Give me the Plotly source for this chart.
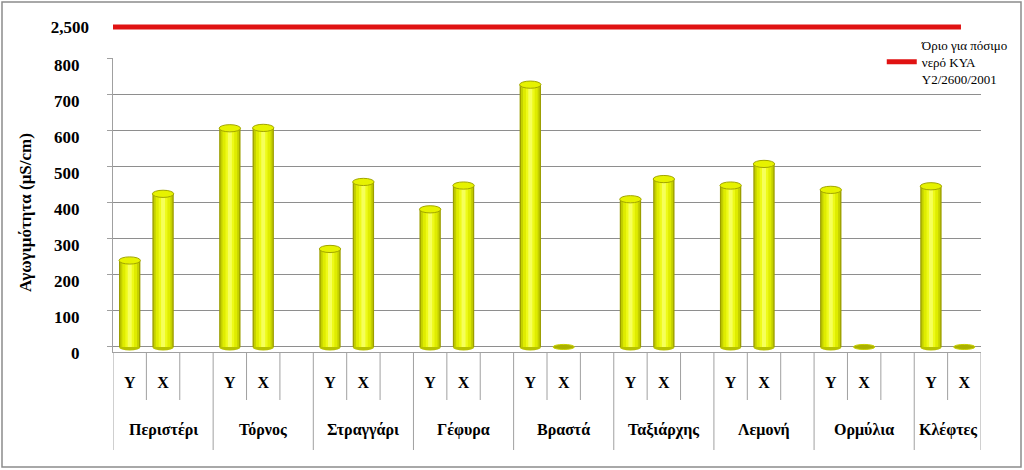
import plotly.graph_objects as go

# ---------------- data ----------------
locations = ["Περιστέρι", "Τόρνος", "Στραγγάρι", "Γέφυρα", "Βραστά",
             "Ταξιάρχης", "Λεμονή", "Ορμύλια", "Κλέφτες"]
sub_labels = ["Υ", "Χ"]
values_Y = [240, 607, 272, 382, 728, 410, 448, 436, 446]
values_X = [425, 608, 458, 448, 0, 466, 508, 0, 0]
limit_value = 2500
limit_name = "Όριο για πόσιμο<br>νερό ΚΥΑ<br>Υ2/2600/2001"
y_ticks = [0, 100, 200, 300, 400, 500, 600, 700, 800]
y_title = "Αγωγιμότητα (μS/cm)"

# ---------------- layout helpers ----------------
W, H = 1024, 470
L, R, T, B = 113, 43, 10, 118
PH = H - T - B            # plot height in px
SLOTS = 3                 # Y, X, gap per location
n_groups = len(locations)
n_slots = SLOTS * (n_groups - 1) + 2
x_range = [-0.5, n_slots - 0.5]

def py(px):               # pixel y -> paper fraction
    return (H - B - px) / PH

def px_x(px):             # pixel x -> paper fraction
    return (px - L) / (W - L - R)

pos_Y = [g * SLOTS for g in range(n_groups)]
pos_X = [g * SLOTS + 1 for g in range(n_groups)]
bar_x = []
bar_v = []
tick_vals = []
tick_text = []
for g in range(n_groups):
    bar_x += [pos_Y[g], pos_X[g]]
    bar_v += [values_Y[g], values_X[g]]
    tick_vals += [pos_Y[g], pos_X[g]]
    tick_text += sub_labels

fig = go.Figure()

# cylinder-like shading: stacked layers of narrowing bars (overlay)
layers = [(0.64, "#9c9e00"), (0.56, "#c4d000"), (0.44, "#dfec00"),
          (0.26, "#eefa18"), (0.12, "#f6ff5a")]
for w, c in layers:
    fig.add_trace(go.Bar(x=bar_x, y=bar_v, width=w, marker_color=c,
                         marker_line_width=0, showlegend=False,
                         hoverinfo="x+y"))

# limit line on top axis
fig.add_trace(go.Scatter(x=[x_range[0], bar_x[-1] - 0.1],
                         y=[limit_value, limit_value], yaxis="y2",
                         mode="lines", line=dict(color="#e01212", width=5),
                         name=limit_name, showlegend=True))

shapes = []
# bottom and top ellipses of cylinders
for xv, v in zip(bar_x, bar_v):
    hw = 0.32
    if v > 0:
        shapes.append(dict(type="circle", xref="x", yref="y", layer="below",
                           x0=xv - hw, x1=xv + hw, y0=-10, y1=10,
                           fillcolor="#b8c200", line=dict(width=0)))
        shapes.append(dict(type="circle", xref="x", yref="y", layer="above",
                           x0=xv - hw, x1=xv + hw, y0=v - 10, y1=v + 10,
                           fillcolor="#e6f200",
                           line=dict(color="#a2a600", width=1)))
    else:
        shapes.append(dict(type="circle", xref="x", yref="y", layer="above",
                           x0=xv - hw, x1=xv + hw, y0=v - 7, y1=v + 7,
                           fillcolor="#aab000",
                           line=dict(color="#c8d000", width=1)))

# category dividers
b = x_range[0]
k = 0
while b <= x_range[1] + 1e-9:
    long_line = (k % SLOTS == 0) or abs(b - x_range[1]) < 1e-9
    shapes.append(dict(type="line", xref="x", yref="paper",
                       x0=b, x1=b, y0=0, y1=py(450 if long_line else 400),
                       line=dict(color="#a0a0a0", width=1)))
    b += 1
    k += 1

# frame
shapes.append(dict(type="rect", xref="paper", yref="paper",
                   x0=px_x(2), x1=px_x(1021), y0=py(467), y1=py(2),
                   line=dict(color="#8c8c8c", width=1.5),
                   fillcolor="rgba(0,0,0,0)", layer="below"))

annotations = []
for g, name in enumerate(locations):
    start = g * SLOTS - 0.5
    end = min(start + SLOTS, x_range[1])
    annotations.append(dict(x=(start + end) / 2, y=py(430), xref="x",
                            yref="paper", text="<b>" + name + "</b>",
                            showarrow=False,
                            font=dict(family="Liberation Serif", size=16,
                                      color="#000"),
                            xanchor="center", yanchor="middle"))
annotations.append(dict(x=px_x(25), y=py(213), xref="paper", yref="paper",
                        text="<b>" + y_title + "</b>", textangle=-90,
                        showarrow=False,
                        font=dict(family="Liberation Serif", size=17,
                                  color="#000"),
                        xanchor="center", yanchor="middle"))

fig.update_layout(
    width=W, height=H,
    margin=dict(l=L, r=R, t=T, b=B, autoexpand=False),
    paper_bgcolor="white", plot_bgcolor="white",
    barmode="overlay",
    font=dict(family="Liberation Serif", color="#000"),
    xaxis=dict(range=x_range, tickmode="array", tickvals=tick_vals,
               ticktext=tick_text, showgrid=False, zeroline=False,
               showline=True, linecolor="#a0a0a0", linewidth=1,
               ticks="", ticklabelstandoff=16,
               tickfont=dict(family="Liberation Serif", size=16, color="#000",
                             weight="bold")),
    yaxis=dict(domain=[0, py(58)], range=[-14, 802], tickmode="array",
               tickvals=y_ticks, showgrid=True, gridcolor="#8e8e8e",
               gridwidth=1.3, zeroline=False, showline=True,
               linecolor="#a0a0a0", linewidth=1, ticks="outside",
               ticklen=5, tickcolor="#a0a0a0", ticklabelstandoff=24,
               ticklabelshift=6,
               tickfont=dict(family="Liberation Serif", size=17, color="#000",
                             weight="bold")),
    yaxis2=dict(domain=[py(39), py(15)], range=[2440, 2560],
                tickmode="array", tickvals=[limit_value], tickformat=",",
                showgrid=False, zeroline=False, showline=False, ticks="",
                anchor="x", ticklabelstandoff=23,
                tickfont=dict(family="Liberation Serif", size=17, color="#000",
                              weight="bold")),
    legend=dict(xref="container", yref="container", x=0.99, y=1 - 62 / H,
                xanchor="right", yanchor="middle",
                bgcolor="rgba(0,0,0,0)",
                font=dict(family="Liberation Serif", size=13, color="#000"),
                itemwidth=30),
    shapes=shapes,
    annotations=annotations,
)

fig.write_html("out.html",
               config={"displayModeBar": False},
               post_script="document.body.style.margin='0px';")
